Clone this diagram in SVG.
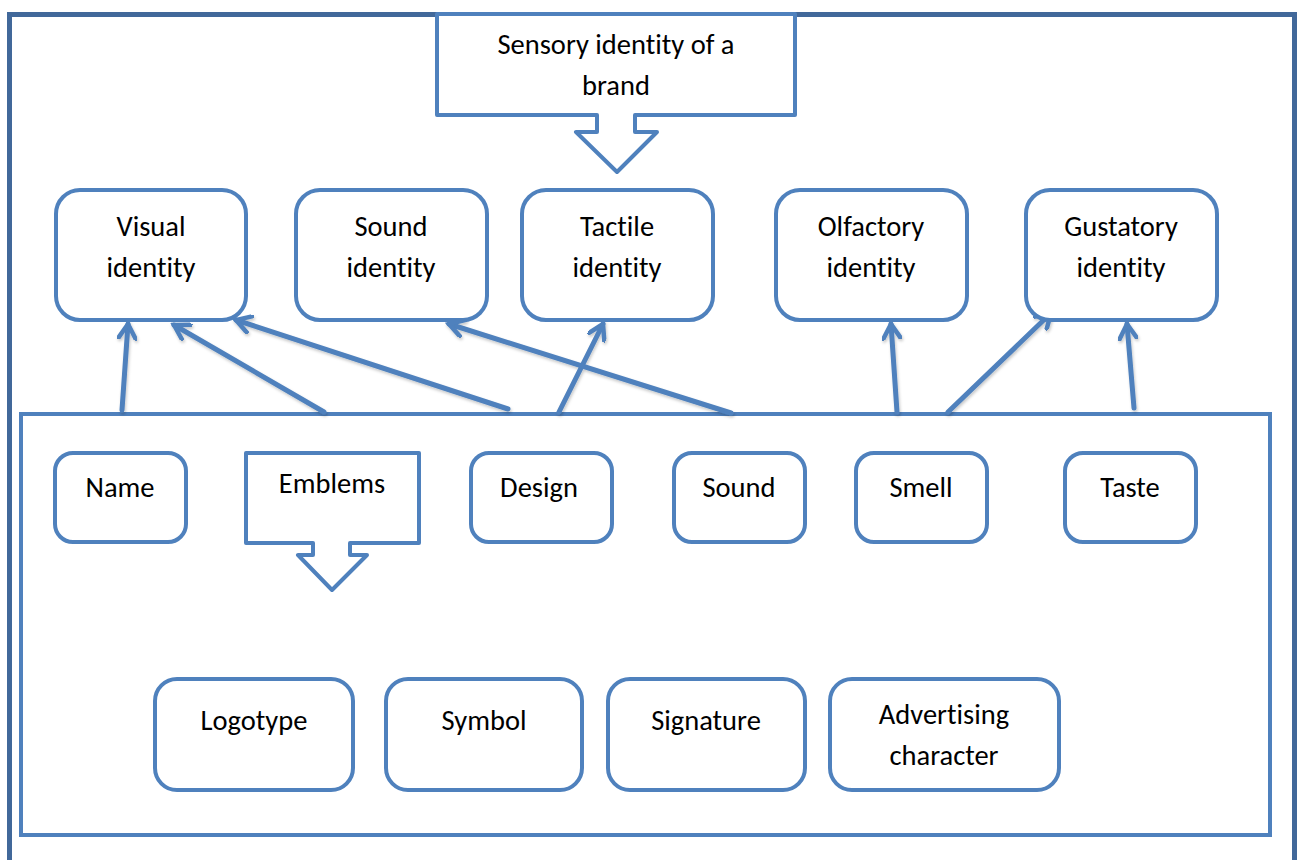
<svg xmlns="http://www.w3.org/2000/svg" width="1300" height="860" viewBox="0 0 1300 860">
  <defs>
    <style>
      .frame { fill: none; stroke: #41689a; stroke-width: 5; }
      .panel { fill: none; stroke: #4f81bd; stroke-width: 4; }
      .box { fill: #ffffff; stroke: #4f81bd; stroke-width: 4; }
      .callout { fill: #ffffff; stroke: #4f81bd; stroke-width: 4; stroke-linejoin: round; }
      .label { font-family: Calibri, Carlito, Lato, "Liberation Sans", sans-serif; font-size: 28.5px; fill: #000000; text-anchor: middle; font-variant-ligatures: none; }
      .link { fill: none; stroke: #4f81bd; stroke-width: 5; stroke-linecap: round; marker-end: url(#chevron); }
    </style>
    <marker id="chevron" viewBox="0 0 20 20" refX="16" refY="10" markerWidth="20" markerHeight="20" markerUnits="userSpaceOnUse" orient="auto">
      <path d="M1,1 L16,10 L1,19" fill="none" stroke="#4f81bd" stroke-width="4.5" stroke-linecap="round" stroke-linejoin="miter"/>
    </marker>
    <filter id="shade" x="-10%" y="-10%" width="120%" height="130%">
      <feDropShadow dx="1" dy="2" stdDeviation="1.5" flood-color="#000000" flood-opacity="0.22"/>
    </filter>
  </defs>

  <!-- outer frame -->
  <rect class="frame" x="9.5" y="14.5" width="1285" height="870"/>

  <!-- lower panel holding the brand elements -->
  <rect class="panel" x="21" y="414" width="1249" height="421"/>

  <!-- connectors from the element panel up to the identity boxes -->
  <g id="connectors" filter="url(#shade)">
    <line class="link" x1="122" y1="410" x2="128" y2="324"/>
    <line class="link" x1="324" y1="412" x2="174" y2="325"/>
    <line class="link" x1="508" y1="409" x2="236" y2="320"/>
    <line class="link" x1="559" y1="412" x2="603" y2="324"/>
    <line class="link" x1="731" y1="413" x2="449" y2="324"/>
    <line class="link" x1="897" y1="412" x2="891" y2="324"/>
    <line class="link" x1="948" y1="412" x2="1051" y2="313"/>
    <line class="link" x1="1134" y1="408" x2="1127" y2="324"/>
  </g>

  <!-- title callout -->
  <g id="sensory-identity">
    <path class="callout" d="M437,14 H795 V115 H635 V132 H657 L617,172 L576,132 H597 V115 H437 Z"/>
    <text class="label" x="616" y="54">Sensory identity of a</text>
    <text class="label" x="616" y="95">brand</text>
  </g>

  <!-- identity row -->
  <g id="visual-identity">
    <rect class="box" x="56" y="190" width="190" height="130" rx="24"/>
    <text class="label" x="151" y="236">Visual</text>
    <text class="label" x="151" y="277">identity</text>
  </g>
  <g id="sound-identity">
    <rect class="box" x="296" y="190" width="191" height="130" rx="24"/>
    <text class="label" x="391" y="236">Sound</text>
    <text class="label" x="391" y="277">identity</text>
  </g>
  <g id="tactile-identity">
    <rect class="box" x="522" y="190" width="191" height="130" rx="24"/>
    <text class="label" x="617" y="236">Tactile</text>
    <text class="label" x="617" y="277">identity</text>
  </g>
  <g id="olfactory-identity">
    <rect class="box" x="776" y="190" width="191" height="130" rx="24"/>
    <text class="label" x="871" y="236">Olfactory</text>
    <text class="label" x="871" y="277">identity</text>
  </g>
  <g id="gustatory-identity">
    <rect class="box" x="1026" y="190" width="191" height="130" rx="24"/>
    <text class="label" x="1121" y="236">Gustatory</text>
    <text class="label" x="1121" y="277">identity</text>
  </g>

  <!-- brand elements -->
  <g id="name">
    <rect class="box" x="55" y="453" width="131" height="89" rx="18"/>
    <text class="label" x="120" y="497">Name</text>
  </g>
  <g id="emblems">
    <path class="callout" d="M246,453 H419 V543 H350 V555 H367 L332,590 L298,555 H313 V543 H246 Z"/>
    <text class="label" x="332" y="493">Emblems</text>
  </g>
  <g id="design">
    <rect class="box" x="471" y="453" width="141" height="89" rx="18"/>
    <text class="label" x="539" y="497">Design</text>
  </g>
  <g id="sound">
    <rect class="box" x="674" y="453" width="131" height="89" rx="18"/>
    <text class="label" x="739" y="497">Sound</text>
  </g>
  <g id="smell">
    <rect class="box" x="856" y="453" width="131" height="89" rx="18"/>
    <text class="label" x="921" y="497">Smell</text>
  </g>
  <g id="taste">
    <rect class="box" x="1065" y="453" width="131" height="89" rx="18"/>
    <text class="label" x="1130" y="497">Taste</text>
  </g>

  <!-- emblem kinds -->
  <g id="logotype">
    <rect class="box" x="155" y="679" width="198" height="111" rx="22"/>
    <text class="label" x="254" y="730">Logotype</text>
  </g>
  <g id="symbol">
    <rect class="box" x="386" y="679" width="196" height="111" rx="22"/>
    <text class="label" x="484" y="730">Symbol</text>
  </g>
  <g id="signature">
    <rect class="box" x="608" y="679" width="197" height="111" rx="22"/>
    <text class="label" x="706" y="730">Signature</text>
  </g>
  <g id="advertising-character">
    <rect class="box" x="830" y="679" width="229" height="111" rx="22"/>
    <text class="label" x="944" y="724">Advertising</text>
    <text class="label" x="944" y="765">character</text>
  </g>
</svg>
